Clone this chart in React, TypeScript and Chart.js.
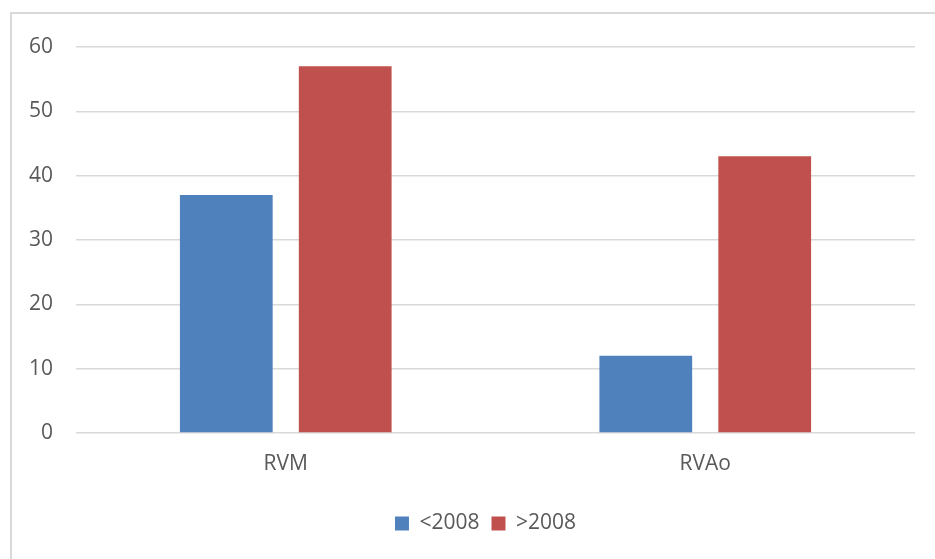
import React, { useEffect, useRef } from "react";
import { Chart, registerables } from "chart.js";

Chart.register(...registerables);

const categories = ["RVM", "RVAo"];
const seriesNames = ["<2008", ">2008"];
const before2008 = [37, 12];
const after2008 = [57, 43];
const yTicks = [0, 10, 20, 30, 40, 50, 60];

const borderPlugin = {
  id: "outerBorder",
  beforeDraw(chart: any) {
    const ctx = chart.ctx;
    ctx.save();
    ctx.fillStyle = "#ffffff";
    ctx.fillRect(0, 0, chart.width, chart.height);
    ctx.strokeStyle = "#d9d9d9";
    ctx.lineWidth = 2;
    ctx.strokeRect(11, 13, chart.width + 20, chart.height + 20);
    ctx.restore();
  },
  afterLayout(chart: any) {
    const lg = chart.legend;
    if (lg) {
      lg.left += 28;
      lg.right += 28;
    }
  },
};

export default function App() {
  const ref = useRef<HTMLCanvasElement | null>(null);
  useEffect(() => {
    if (!ref.current) return;
    const font = { family: "'Open Sans', 'Noto Sans', sans-serif", size: 21 };
    const chart = new Chart(ref.current, {
      type: "bar",
      data: {
        labels: categories,
        datasets: [
          { label: seriesNames[0], data: before2008, backgroundColor: "#4F81BD" },
          { label: seriesNames[1], data: after2008, backgroundColor: "#C0504D" },
        ],
      },
      options: {
        animation: false,
        responsive: false,
        devicePixelRatio: 1,
        layout: { padding: { top: 47, right: 20, bottom: 15, left: 0 } },
        datasets: {
          bar: { categoryPercentage: 0.567, barPercentage: 0.78 },
        } as any,
        plugins: {
          legend: {
            position: "bottom",
            labels: {
              boxWidth: 14,
              boxHeight: 14,
              padding: 12,
              color: "#595959",
              font,
            },
          },
          tooltip: { enabled: false },
        },
        scales: {
          x: {
            grid: { display: false },
            border: { display: false },
            ticks: { color: "#595959", font, padding: 10 },
            afterFit(scale: any) {
              scale.height = 68;
            },
          },
          y: {
            min: 0,
            max: 60,
            afterBuildTicks(scale: any) {
              scale.ticks = yTicks.map((v) => ({ value: v }));
            },
            grid: { color: "#d9d9d9", lineWidth: 1.5, drawTicks: false },
            border: { display: false },
            ticks: { color: "#595959", font, padding: 23 },
            afterFit(scale: any) {
              scale.width = 76;
            },
          },
        },
      },
      plugins: [borderPlugin],
    });
    return () => chart.destroy();
  }, []);
  return (
    <div style={{ position: "absolute", left: 0, top: 0, width: 935, height: 559 }}>
      <canvas ref={ref} width={935} height={559} style={{ width: 935, height: 559 }} />
    </div>
  );
}
